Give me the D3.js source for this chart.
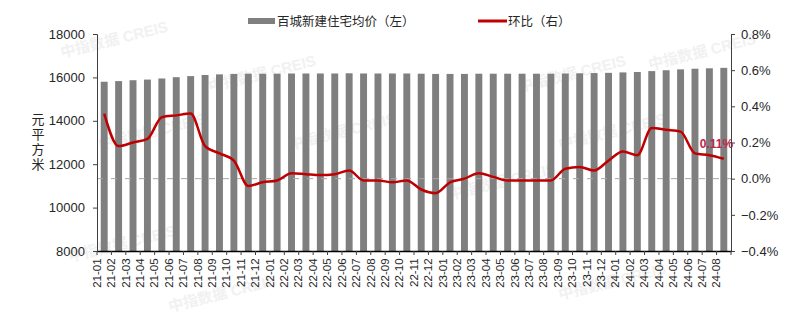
<!DOCTYPE html>
<html>
<head>
<meta charset="utf-8">
<script src="https://cdn.jsdelivr.net/npm/d3@7"></script>
<style>
  body { margin: 0; background: #fff; }
  svg { font-family: "Liberation Sans", Arial, "Noto Sans CJK SC", sans-serif; }
</style>
</head>
<body>
<div id="chart"></div>
<script>
// months, 21-01 .. 24-08
var months = ["21-01","21-02","21-03","21-04","21-05","21-06","21-07","21-08","21-09","21-10","21-11","21-12",
  "22-01","22-02","22-03","22-04","22-05","22-06","22-07","22-08","22-09","22-10","22-11","22-12",
  "23-01","23-02","23-03","23-04","23-05","23-06","23-07","23-08","23-09","23-10","23-11","23-12",
  "24-01","24-02","24-03","24-04","24-05","24-06","24-07","24-08"];

// average price of new homes in 100 cities (yuan / sq m)
var avgPrice = [15800,15830,15870,15900,15950,16010,16060,16110,16140,16160,16170,16170,
  16170,16180,16180,16180,16180,16190,16180,16180,16180,16180,16170,16160,
  16160,16160,16170,16170,16170,16170,16170,16170,16180,16190,16200,16210,
  16230,16250,16290,16330,16370,16400,16420,16440];

// month-on-month change (%)
var momChange = [0.36,0.18,0.20,0.22,0.34,0.35,0.36,0.18,0.14,0.10,-0.04,-0.02,
  -0.01,0.03,0.025,0.02,0.025,0.045,-0.01,-0.01,-0.02,-0.01,-0.06,-0.08,
  -0.02,0.00,0.03,0.01,-0.01,-0.01,-0.01,-0.01,0.055,0.065,0.045,0.10,
  0.15,0.13,0.28,0.27,0.26,0.14,0.13,0.11];

var leftTicks = [8000,10000,12000,14000,16000,18000];
var rightTicks = [-0.4,-0.2,0,0.2,0.4,0.6,0.8];

var W = 800, H = 323;
var m = {left: 97, right: 800 - 731, top: 34, bottom: 323 - 251};
var iw = W - m.left - m.right, ih = H - m.top - m.bottom;

var svg = d3.select("#chart").append("svg").attr("width", W).attr("height", H);

// faint watermarks
var marks = [[62,58],[210,92],[520,92],[650,70],[100,150],[290,150],[450,200],[560,150],[70,262],[560,300],[170,312]];
svg.append("g").selectAll("text").data(marks).enter().append("text")
  .attr("transform", function(d){ return "translate(" + d[0] + "," + d[1] + ") rotate(-14)"; })
  .attr("font-size", 15).attr("font-weight", "bold")
  .attr("fill", "#ececec").attr("opacity", 0.7)
  .text("中指数据 CREIS");

var g = svg.append("g").attr("transform", "translate(" + m.left + "," + m.top + ")");

var x = d3.scaleBand().domain(months).range([0, iw]).paddingInner(0.52).paddingOuter(0.26);
var yL = d3.scaleLinear().domain([8000, 18000]).range([ih, 0]);
var yR = d3.scaleLinear().domain([-0.4, 0.8]).range([ih, 0]);

// bars
g.append("g").selectAll("rect").data(avgPrice).enter().append("rect")
  .attr("x", function(d, i){ return x(months[i]); })
  .attr("y", function(d){ return yL(d); })
  .attr("width", x.bandwidth())
  .attr("height", function(d){ return ih - yL(d); })
  .attr("fill", "#7f7f7f");

// zero line of right axis
g.append("line")
  .attr("x1", 0).attr("x2", iw)
  .attr("y1", yR(0)).attr("y2", yR(0))
  .attr("stroke", "#a6a6a6").attr("stroke-width", 1)
  .attr("stroke-dasharray", "6,8");

// line
var line = d3.line()
  .x(function(d, i){ return x(months[i]) + x.bandwidth() / 2; })
  .y(function(d){ return yR(d); })
  .curve(d3.curveMonotoneX);
g.append("path").datum(momChange)
  .attr("d", line)
  .attr("fill", "none")
  .attr("stroke", "#c00000")
  .attr("stroke-width", 2.5)
  .attr("stroke-linejoin", "round");

// last value label
var last = momChange.length - 1;
g.append("text")
  .attr("x", x(months[last]) + x.bandwidth() / 2 - 24)
  .attr("y", yR(momChange[last]) - 11)
  .attr("font-size", 12).attr("font-weight", "bold")
  .attr("fill", "#c0264a")
  .text(d3.format(".2f")(momChange[last]) + "%");

// axes
var axL = g.append("g")
  .call(d3.axisLeft(yL).tickValues(leftTicks).tickSize(4).tickPadding(8).tickFormat(d3.format("d")));
var axR = g.append("g").attr("transform", "translate(" + iw + ",0)")
  .call(d3.axisRight(yR).tickValues(rightTicks).tickSize(4).tickPadding(6)
    .tickFormat(function(d){ return d3.format(".1f")(d) + "%"; }));
var axB = g.append("g").attr("transform", "translate(0," + ih + ")")
  .call(d3.axisBottom(x).tickSize(0).tickPadding(5));

[axL, axR, axB].forEach(function(a){
  a.selectAll(".domain").attr("stroke", "#404040");
  a.selectAll(".tick line").attr("stroke", "#404040");
  a.selectAll("text").attr("fill", "#262626").attr("font-size", 13)
    .attr("font-family", "Liberation Sans, Arial, sans-serif");
});
axB.select(".domain").attr("stroke", "#000").attr("stroke-width", 1.5);

// category separators on x axis
axB.selectAll(".sep").data(months.concat(["end"])).enter().append("line")
  .attr("class", "sep")
  .attr("x1", function(d, i){ return x.step() * i + x.step() * (x.paddingOuter() - x.paddingInner() / 2) ; })
  .attr("x2", function(d, i){ return x.step() * i + x.step() * (x.paddingOuter() - x.paddingInner() / 2); })
  .attr("y1", 0).attr("y2", 4)
  .attr("stroke", "#404040");

axB.selectAll(".tick text")
  .attr("font-size", 11.5)
  .attr("transform", "rotate(-90)")
  .attr("text-anchor", "end")
  .attr("dx", "-0.3em")
  .attr("dy", "-0.3em")
  .attr("y", 0)
  .attr("x", -4);

// y axis title, written vertically
svg.append("text")
  .attr("x", 38).attr("y", 113)
  .attr("font-size", 13)
  .attr("fill", "#262626")
  .attr("font-family", "Noto Sans CJK SC, sans-serif")
  .style("writing-mode", "vertical-rl")
  .style("letter-spacing", "2px")
  .text("元平方米");

// legend
var lg = svg.append("g").attr("font-family", "Noto Sans CJK SC, sans-serif").attr("font-size", 12.5).attr("fill", "#262626");
lg.append("rect").attr("x", 248).attr("y", 18).attr("width", 27).attr("height", 6).attr("fill", "#7f7f7f");
lg.append("text").attr("x", 277).attr("y", 26).text("百城新建住宅均价（左）");
lg.append("line").attr("x1", 478).attr("x2", 507).attr("y1", 21).attr("y2", 21)
  .attr("stroke", "#c00000").attr("stroke-width", 3);
lg.append("text").attr("x", 508).attr("y", 26).text("环比（右）");
</script>
</body>
</html>
